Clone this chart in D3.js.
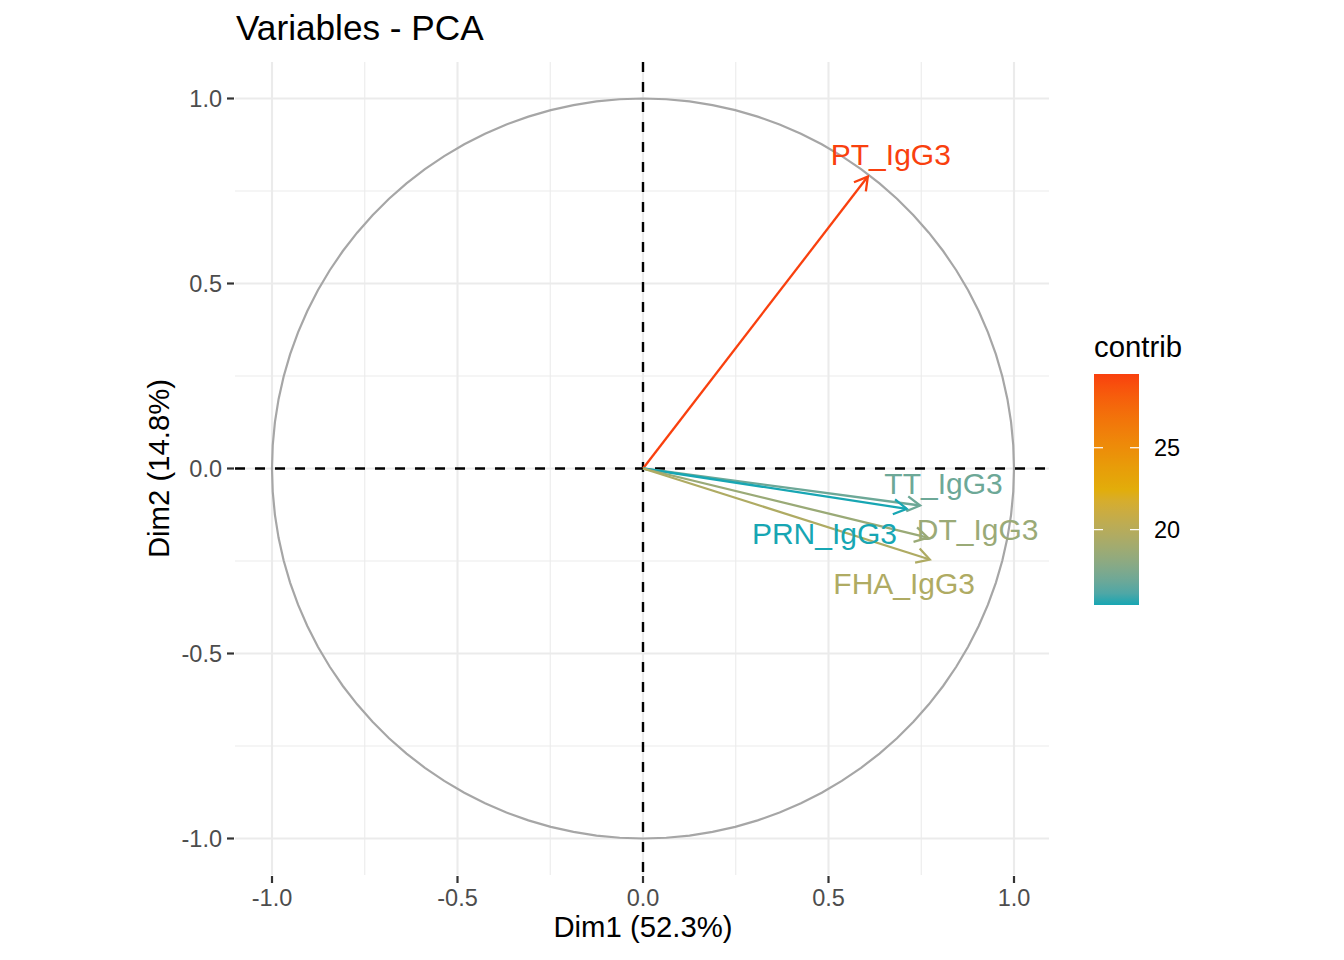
<!DOCTYPE html>
<html>
<head>
<meta charset="utf-8">
<script src="https://cdn.jsdelivr.net/npm/d3@7"></script>
<style>
  body { margin: 0; background: #fff; }
  svg { font-family: "Liberation Sans", Arial, Helvetica, sans-serif; }
</style>
</head>
<body>
<svg id="chart" width="1344" height="960"></svg>
<script>
// --- data ---
var variables = ["PT_IgG3", "TT_IgG3", "PRN_IgG3", "DT_IgG3", "FHA_IgG3"];
var dim1 = [0.606, 0.747, 0.711, 0.768, 0.773];
var dim2 = [0.789, -0.100, -0.109, -0.187, -0.246];
var contrib = [29.5, 16.9, 15.4, 18.6, 19.6];
// label anchor points (data units), as placed in the figure
var labelX = [0.668, 0.810, 0.489, 0.902, 0.704];
var labelY = [0.849, -0.039, -0.174, -0.164, -0.310];

var axisTicks = [-1.0, -0.5, 0.0, 0.5, 1.0];
var minorTicks = [-0.75, -0.25, 0.25, 0.75];
var legendTicks = [20, 25];
var gradientCols = ["#17A6B3", "#E2AD0A", "#F9400E"];

// --- layout ---
var svg = d3.select("#chart");
var panel = { left: 235, right: 1049, top: 62, bottom: 875 };

var x = d3.scaleLinear().domain([-1, 1]).range([272, 1014]);
var y = d3.scaleLinear().domain([-1, 1]).range([838.5, 98.5]);
var fmt = function(t) { return d3.format(".1f")(t).replace("\u2212", "-"); };

var cMin = d3.min(contrib), cMax = d3.max(contrib);
var color = d3.scaleLinear()
    .domain([cMin, (cMin + cMax) / 2, cMax])
    .range(gradientCols)
    .interpolate(d3.interpolateLab);

// --- grid ---
var grid = svg.append("g");
minorTicks.forEach(function(t) {
    grid.append("line").attr("x1", x(t)).attr("x2", x(t))
        .attr("y1", panel.top).attr("y2", panel.bottom)
        .attr("stroke", "#EBEBEB").attr("stroke-width", 1.1);
    grid.append("line").attr("y1", y(t)).attr("y2", y(t))
        .attr("x1", panel.left).attr("x2", panel.right)
        .attr("stroke", "#EBEBEB").attr("stroke-width", 1.1);
});
axisTicks.forEach(function(t) {
    grid.append("line").attr("x1", x(t)).attr("x2", x(t))
        .attr("y1", panel.top).attr("y2", panel.bottom)
        .attr("stroke", "#EBEBEB").attr("stroke-width", 2.1);
    grid.append("line").attr("y1", y(t)).attr("y2", y(t))
        .attr("x1", panel.left).attr("x2", panel.right)
        .attr("stroke", "#EBEBEB").attr("stroke-width", 2.1);
});

// --- correlation circle ---
var circlePts = d3.range(0, 101).map(function(i) {
    var a = i / 100 * 2 * Math.PI;
    return [Math.cos(a), Math.sin(a)];
});
svg.append("path")
    .attr("d", d3.line().x(d => x(d[0])).y(d => y(d[1]))(circlePts))
    .attr("fill", "none")
    .attr("stroke", "#A6A6A6")
    .attr("stroke-width", 2.2);

// --- dashed zero lines ---
svg.append("line").attr("x1", panel.left).attr("x2", panel.right)
    .attr("y1", y(0)).attr("y2", y(0))
    .attr("stroke", "#000").attr("stroke-width", 2.4).attr("stroke-dasharray", "10,10");
svg.append("line").attr("x1", x(0)).attr("x2", x(0))
    .attr("y1", panel.top).attr("y2", panel.bottom)
    .attr("stroke", "#000").attr("stroke-width", 2.4).attr("stroke-dasharray", "10,10");

// --- arrows ---
var headLen = 15, headAng = Math.PI / 6;
var arrows = svg.append("g");
variables.forEach(function(v, i) {
    var x0 = x(0), y0 = y(0), x1 = x(dim1[i]), y1 = y(dim2[i]);
    var ang = Math.atan2(y1 - y0, x1 - x0);
    var col = color(contrib[i]);
    arrows.append("line")
        .attr("x1", x0).attr("y1", y0).attr("x2", x1).attr("y2", y1)
        .attr("stroke", col).attr("stroke-width", 2.3);
    var p1 = [x1 - headLen * Math.cos(ang - headAng), y1 - headLen * Math.sin(ang - headAng)];
    var p2 = [x1 - headLen * Math.cos(ang + headAng), y1 - headLen * Math.sin(ang + headAng)];
    arrows.append("path")
        .attr("d", "M" + p1 + "L" + [x1, y1] + "L" + p2)
        .attr("fill", "none").attr("stroke", col).attr("stroke-width", 2.3)
        .attr("stroke-linejoin", "miter");
});

// --- labels ---
svg.append("g").selectAll("text")
    .data(variables)
    .enter().append("text")
    .attr("x", (d, i) => x(labelX[i]))
    .attr("y", (d, i) => y(labelY[i]))
    .attr("dy", "0.36em")
    .attr("text-anchor", "middle")
    .attr("font-size", 30)
    .attr("fill", (d, i) => color(contrib[i]))
    .text(d => d);

// --- axes ---
var xAxis = svg.append("g");
axisTicks.forEach(function(t) {
    xAxis.append("line").attr("x1", x(t)).attr("x2", x(t))
        .attr("y1", panel.bottom + 1).attr("y2", panel.bottom + 8)
        .attr("stroke", "#333").attr("stroke-width", 2.2);
    xAxis.append("text").attr("x", x(t)).attr("y", 906)
        .attr("text-anchor", "middle").attr("font-size", 23.5).attr("fill", "#4D4D4D")
        .text(fmt(t));
});
var yAxis = svg.append("g");
axisTicks.forEach(function(t) {
    yAxis.append("line").attr("y1", y(t)).attr("y2", y(t))
        .attr("x1", panel.left - 8).attr("x2", panel.left - 1)
        .attr("stroke", "#333").attr("stroke-width", 2.2);
    yAxis.append("text").attr("x", 222).attr("y", y(t)).attr("dy", "0.36em")
        .attr("text-anchor", "end").attr("font-size", 23.5).attr("fill", "#4D4D4D")
        .text(fmt(t));
});

svg.append("text").attr("x", x(0)).attr("y", 937)
    .attr("text-anchor", "middle").attr("font-size", 29.3).attr("fill", "#000")
    .text("Dim1 (52.3%)");
svg.append("text").attr("transform", "translate(169," + y(0) + ") rotate(-90)")
    .attr("text-anchor", "middle").attr("font-size", 29.3).attr("fill", "#000")
    .text("Dim2 (14.8%)");

svg.append("text").attr("x", 236).attr("y", 40)
    .attr("font-size", 35.2).attr("fill", "#000")
    .text("Variables - PCA");

// --- legend ---
var legend = { left: 1094, width: 45, top: 374, bottom: 605 };
var ly = d3.scaleLinear().domain([cMin, cMax]).range([legend.bottom, legend.top]);

var defs = svg.append("defs");
var grad = defs.append("linearGradient").attr("id", "contribGrad")
    .attr("x1", "0").attr("y1", "1").attr("x2", "0").attr("y2", "0");
d3.range(0, 21).forEach(function(i) {
    var v = cMin + (cMax - cMin) * i / 20;
    grad.append("stop").attr("offset", (i / 20 * 100) + "%").attr("stop-color", color(v));
});
svg.append("rect")
    .attr("x", legend.left).attr("y", legend.top)
    .attr("width", legend.width).attr("height", legend.bottom - legend.top)
    .attr("fill", "url(#contribGrad)");
legendTicks.forEach(function(t) {
    svg.append("line").attr("x1", legend.left).attr("x2", legend.left + 9)
        .attr("y1", ly(t)).attr("y2", ly(t)).attr("stroke", "#fff").attr("stroke-width", 1.2);
    svg.append("line").attr("x1", legend.left + legend.width - 9).attr("x2", legend.left + legend.width)
        .attr("y1", ly(t)).attr("y2", ly(t)).attr("stroke", "#fff").attr("stroke-width", 1.2);
    svg.append("text").attr("x", 1154).attr("y", ly(t)).attr("dy", "0.36em")
        .attr("font-size", 23.5).attr("fill", "#000").text(t);
});
svg.append("text").attr("x", 1094).attr("y", 357)
    .attr("font-size", 29.3).attr("fill", "#000").text("contrib");
</script>
</body>
</html>
